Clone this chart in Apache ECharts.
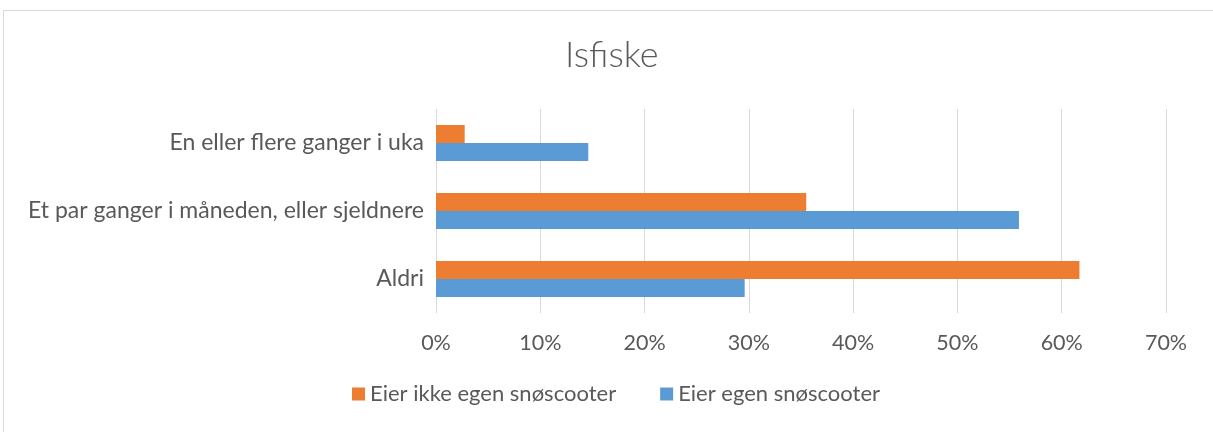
<!DOCTYPE html>
<html>
<head>
<meta charset="utf-8">
<script src="https://cdn.jsdelivr.net/npm/echarts@6/dist/echarts.min.js"></script>
<style>
  html, body { margin: 0; padding: 0; background: #fff; }
  #chart { width: 1213px; height: 432px; }
  .frame { position: absolute; left: 3px; top: 10px; width: 1215px; height: 430px; border: 1px solid #d9d9d9; pointer-events: none; }
</style>
</head>
<body>
<div id="chart"></div>
<div class="frame"></div>
<script>
// kategorier, ovenfra og ned
const categories = ['En eller flere ganger i uka', 'Et par ganger i måneden, eller sjeldnere', 'Aldri'];
const seriesNames = ['Eier ikke egen snøscooter', 'Eier egen snøscooter'];
const eierIkke = [2.75, 35.5, 61.7];
const eier = [14.6, 55.9, 29.6];

const textColor = '#595959';
const font = 'Lato';
const myChart = echarts.init(document.getElementById('chart'));
const option = {
  animation: false,
  title: {
    text: 'Isfiske',
    left: 560,
    top: 32,
    textStyle: { fontFamily: font, fontWeight: 300, fontSize: 36, color: textColor }
  },
  legend: {
    bottom: 22,
    left: 347,
    itemWidth: 13,
    itemHeight: 13,
    itemGap: 44,
    icon: 'rect',
    textStyle: { fontFamily: font, fontSize: 22, color: textColor }
  },
  grid: { left: 436, right: 47, top: 109, height: 204 },
  xAxis: {
    type: 'value',
    min: 0,
    max: 70,
    interval: 10,
    axisLine: { show: false },
    axisTick: { show: false },
    splitLine: { lineStyle: { color: '#d9d9d9', width: 1 } },
    axisLabel: {
      formatter: '{value}%',
      margin: 19,
      fontFamily: font,
      fontSize: 21.5,
      color: textColor
    }
  },
  yAxis: {
    type: 'category',
    inverse: true,
    data: categories,
    axisLine: { show: false },
    axisTick: { show: false },
    axisLabel: { margin: 12, fontFamily: font, fontSize: 23, color: textColor }
  },
  series: [
    {
      name: seriesNames[0],
      type: 'bar',
      data: eierIkke,
      itemStyle: { color: '#ED7D31' },
      barGap: '0%',
      barCategoryGap: '47%'
    },
    {
      name: seriesNames[1],
      type: 'bar',
      data: eier,
      itemStyle: { color: '#5B9BD5' },
      barGap: '0%',
      barCategoryGap: '47%'
    }
  ]
};
myChart.setOption(option);
</script>
</body>
</html>
